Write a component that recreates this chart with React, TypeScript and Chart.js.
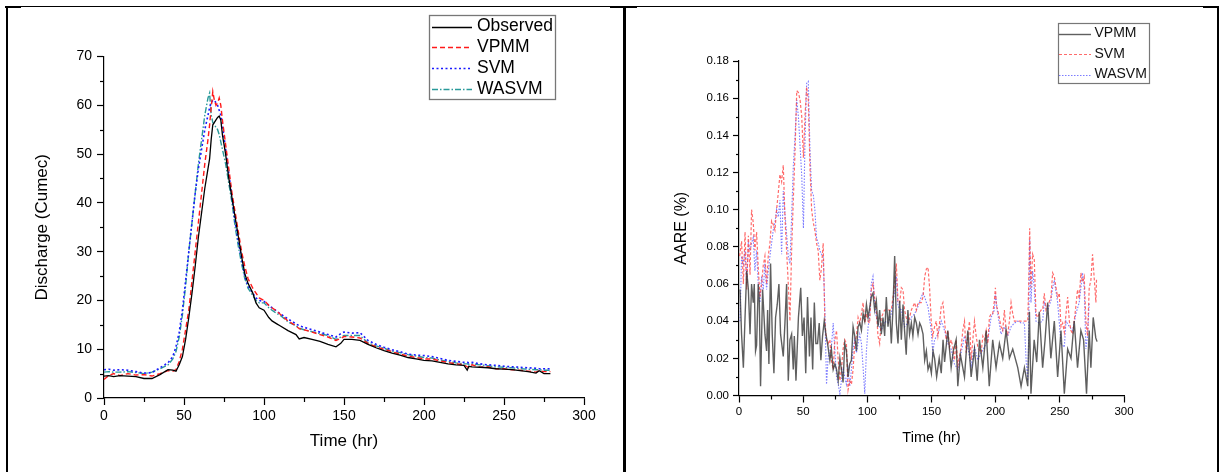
import React, { useEffect, useRef } from "react";
import { Chart, registerables } from "chart.js";

Chart.register(...registerables);

const FONT = '"Liberation Sans", Arial, Helvetica, sans-serif';

// ---------- Left panel: Discharge (Cumec) vs Time (hr) ----------
const dischargeTime = [
  0, 3, 6, 10, 15, 20, 25, 30, 35, 40,
  43, 45, 47, 49, 51, 53, 55, 57, 59, 61,
  63, 65, 66, 67, 68, 69, 70, 71, 72, 73,
  74, 76, 78, 80, 82, 84, 86, 88, 90, 93,
  95, 97, 100, 103, 105, 108, 110, 115, 120, 122,
  125, 130, 135, 140, 145, 148, 150, 155, 160, 165,
  170, 175, 180, 185, 190, 195, 200, 205, 210, 215,
  220, 225, 227, 228, 230, 235, 240, 245, 250, 255,
  260, 265, 270, 272, 275, 279,
];
const observedQ = [
  4.5, 4.6, 4.4, 4.6, 4.5, 4.4, 4.0, 4.0, 4.8, 5.8,
  5.7, 5.5, 6.8, 8.5, 12, 16.5, 21.5, 27, 33, 38,
  43, 47, 49, 53, 56, 56.5, 57, 57.5, 57.8, 57,
  54, 50, 45, 41, 37, 33, 29, 25.5, 23.5, 21.5,
  19.5, 18.5, 18, 16.5, 15.8, 15.2, 14.8, 13.8, 13, 12.1,
  12.4, 12, 11.6, 11, 10.5, 11.2, 12, 12, 11.8, 11,
  10.3, 9.7, 9.2, 8.8, 8.3, 8, 7.7, 7.6, 7.3, 7,
  6.8, 6.7, 5.7, 6.5, 6.4, 6.3, 6.2, 6, 5.9, 5.8,
  5.6, 5.4, 5.1, 5.6, 5.0, 5.0,
];
const vpmmQ = [
  3.8, 4.6, 5.0, 4.6, 5.0, 4.7, 4.8, 4.5, 5.0, 5.6,
  5.5, 5.8, 7.5, 10, 14, 18, 24, 30, 36, 42,
  48, 53, 56, 59.5, 62.8, 61, 60, 60.5, 61.5, 60,
  57, 52, 47, 42, 38, 34, 30, 27, 24.5, 22.5,
  21.5, 20.5, 20, 19, 18.5, 17.8, 17.2, 15.8, 14.8, 14.2,
  14, 13.5, 13, 12.5, 11.8, 12.2, 12.6, 12.5, 12.3, 11.2,
  10.5, 10, 9.5, 9, 8.6, 8.3, 8.0, 8.0, 7.6, 7.3,
  7.0, 6.8, 6.4, 6.2, 6.8, 6.3, 6.4, 6.0, 6.0, 5.8,
  5.7, 5.5, 5.3, 5.6, 5.4, 5.4,
];
const svmQ = [
  5.8, 5.9, 5.7, 5.8, 5.7, 5.4, 5.1, 5.2, 6.2, 7.2,
  8.5, 10.5, 13.5, 18, 24, 30, 36, 42, 47, 51,
  55, 58, 59.5, 60.5, 61, 61, 60.5, 60, 59, 58,
  56, 51, 46, 41, 36, 32, 28.5, 25, 23, 21.5,
  20.5, 20, 19.8, 19, 18.5, 17.8, 17.3, 16.2, 15.2, 14.8,
  14.5, 14, 13.5, 13, 12.5, 13.2, 13.5, 13.3, 13.4, 11.8,
  11, 10.4, 9.9, 9.5, 9, 8.8, 8.7, 8.5, 8.1, 7.7,
  7.5, 7.3, 7.3, 7.2, 7.3, 7, 6.8, 6.7, 6.5, 6.4,
  6.3, 6.2, 6.1, 6.0, 6.0, 6.0,
];
const wasvmQ = [
  5.3, 5.4, 5.3, 5.3, 5.4, 5.2, 5.0, 5.3, 6.0, 6.8,
  8, 9.5, 12.5, 17, 23, 30, 36, 42, 48, 53,
  58, 61.5, 62.5, 58, 56.5, 56, 55.5, 55, 54, 52.5,
  51, 48, 44, 40, 35, 31, 27.5, 24.5, 22.5, 21,
  20, 19.5, 19.5, 18.5, 18, 17.3, 17, 15.6, 14.8, 14.3,
  14, 13.6, 13.2, 12.8, 12, 12.5, 12.8, 12.8, 12.8, 11.3,
  10.7, 10.2, 9.6, 9.3, 8.9, 8.6, 8.3, 8.2, 7.8, 7.5,
  7.2, 7, 7, 6.9, 7, 6.8, 6.6, 6.4, 6.3, 6.2,
  6.0, 5.9, 5.8, 5.8, 5.7, 5.7,
];

// ---------- Right panel: AARE (%) vs Time (hr), [time, value] ----------
const vpmmAare: [number, number][] = [
  [0.8, .057], [2, .033], [3.4, .015], [4.7, .042], [6, .067], [7.3, .057], [8.6, .033], [9.8, .060],
  [11.1, .050], [11.9, .060], [12.9, .024], [13.7, .027], [15, .060], [15.8, .051], [16.8, .005], [18.4, .057],
  [20.2, .033], [21.5, .024], [22.3, .046], [23.3, .017], [24.6, .071], [25.9, .033], [27.2, .012], [28.5, .042],
  [29.8, .049], [31.1, .060], [32.4, .033], [34.5, .021], [35.8, .039], [37.1, .060], [38.4, .008], [39.7, .030],
  [41, .033], [42.3, .014], [43.1, .032], [44.4, .008], [46.3, .042], [48.1, .058], [49.4, .032], [50.7, .042],
  [52, .012], [53.4, .053], [54.9, .021], [56.1, .042], [57.4, .014], [58.7, .050], [59.9, .028], [61.2, .028],
  [62.5, .039], [63.8, .019], [65.1, .032], [66.4, .040], [67.7, .033], [69, .028], [70.8, .019], [72, .025],
  [73.4, .014], [74.7, .017], [76, .014], [77.3, .008], [78.6, .020], [79.8, .014], [81.1, .007], [82.4, .028],
  [83.7, .024], [85, .010], [86.3, .017], [87.6, .019], [88.9, .037], [90.2, .032], [91.5, .024], [92.8, .037],
  [94.1, .039], [95.4, .035], [96.7, .044], [98, .040], [99.3, .049], [100.6, .042], [101.8, .047], [103.1, .053],
  [104.4, .055], [105.7, .046], [107, .051], [108.3, .037], [109.6, .046], [110.9, .033], [112.2, .042], [113.5, .032],
  [114.8, .053], [116.1, .037], [117.4, .046], [118.7, .028], [120, .047], [121.3, .075], [122.6, .039], [123.9, .028],
  [125.2, .051], [126.5, .030], [127.8, .049], [129, .035], [130.3, .022], [131.6, .046], [132.9, .033], [134.3, .039],
  [135.5, .032], [136.9, .042], [138.2, .039], [139.5, .033], [140.8, .039], [142, .037], [143.4, .033], [144.7, .019],
  [146, .024], [147.3, .014], [148.6, .017], [149.9, .012], [151.2, .024], [152.4, .020], [154, .010], [156, .020],
  [157.6, .012], [159, .030], [160.2, .018], [162.7, .035], [165.3, .015], [167, .024], [169.2, .030], [170.5, .005],
  [172.5, .022], [175.7, .010], [178.3, .035], [180.9, .010], [183.5, .025], [185.6, .008], [187.4, .030], [190, .015],
  [192.6, .035], [195, .005], [197.7, .030], [200.3, .015], [202.9, .028], [205.5, .020], [208.1, .035], [210.7, .020],
  [213.3, .025], [217.2, .015], [219.8, .005], [222.4, .015], [225, .005], [226.3, .045], [227.5, .001], [230, .030],
  [232, .018], [234, .045], [236.6, .015], [238.5, .030], [240.5, .050], [243, .020], [245.7, .040], [248.3, .010],
  [250.9, .035], [253.5, .001], [256.1, .025], [258.7, .020], [261.2, .040], [263.8, .015], [266.4, .035], [268.5, .030],
  [270.8, .001], [272.9, .035], [274.2, .015], [276, .042], [278, .031], [279, .029],
];
const svmAare: [number, number][] = [
  [0.5, .075], [2, .083], [3.4, .060], [4.7, .088], [6, .057], [7.3, .086], [8.6, .065], [9.8, .100],
  [11.1, .093], [12.4, .078], [13.7, .088], [15, .069], [16.3, .053], [17.6, .060], [18.9, .070], [20.2, .075],
  [21.5, .060], [22.8, .075], [24.1, .082], [25.4, .094], [26.7, .092], [28, .089], [29.3, .100], [30.6, .109],
  [31.9, .119], [33.2, .115], [34.5, .124], [35.8, .096], [37.1, .078], [38.4, .060], [39.7, .040], [41, .078],
  [42.3, .105], [43.7, .132], [45, .164], [46.3, .163], [47.6, .159], [48.9, .150], [50.2, .128], [51.4, .150],
  [52.7, .166], [54, .159], [55.3, .123], [56.6, .100], [57.9, .093], [59.1, .089], [60.4, .082], [61.7, .078],
  [63, .062], [64.3, .069], [65.6, .082], [66.9, .040], [68.2, .030], [69.5, .028], [70.8, .030], [72, .019],
  [73.4, .014], [74.7, .030], [76, .035], [77.3, .019], [78.6, .008], [79.8, .014], [81.1, .025], [82.4, .030],
  [83.7, .028], [85, .003], [86.3, .008], [87.6, .006], [88.9, .014], [90.2, .028], [91.5, .032], [92.8, .042],
  [94.1, .039], [95.4, .044], [96.7, .050], [98, .039], [99.3, .044], [100.6, .040], [101.8, .039], [103.1, .057],
  [104.4, .060], [105.7, .053], [107, .046], [108.3, .032], [109.6, .028], [110.9, .042], [112.2, .044], [113.5, .046],
  [116.1, .046], [118.7, .046], [121.3, .060], [122.6, .071], [123.9, .050], [125.2, .050], [126.5, .058], [127.8, .057],
  [129, .046], [130.3, .042], [131.6, .039], [132.9, .042], [134.3, .046], [136.9, .050], [138.2, .046], [139.5, .050],
  [142, .050], [143.4, .053], [144.7, .064], [146, .068], [147.3, .069], [148.5, .058], [149.8, .040], [151, .032],
  [152.4, .037], [153.7, .040], [155, .032], [156.3, .039], [157.6, .048], [158.9, .050], [160.2, .040], [161.4, .030],
  [162.7, .035], [164, .026], [165.3, .030], [166.6, .026], [167.9, .019], [169.2, .030], [170.5, .016], [173.1, .026],
  [174.4, .035], [175.7, .040], [177, .023], [178.3, .032], [179.6, .040], [180.9, .019], [182.2, .030], [183.5, .040],
  [184.8, .032], [186.1, .026], [188.7, .023], [190, .032], [191.3, .030], [192.6, .035], [193.9, .028], [195.1, .042],
  [196.4, .044], [197.7, .044], [199, .051], [199.8, .058], [200.6, .048], [201.6, .046], [204.2, .037], [205.5, .035],
  [206.8, .046], [208.1, .035], [209.4, .033], [210.7, .040], [212, .050], [213.3, .044], [214.6, .040], [217.2, .040],
  [219.8, .040], [222.4, .040], [225, .040], [225.7, .058], [226.5, .090], [227.5, .058], [228.8, .076], [230.1, .073],
  [231.4, .044], [232.7, .042], [234, .044], [235.3, .046], [236.6, .046], [237.9, .055], [239.2, .046], [240.5, .048],
  [243.1, .053], [244.4, .066], [245.7, .064], [247, .058], [248.3, .053], [249.6, .055], [250.9, .037], [252.2, .039],
  [253.5, .034], [254.8, .044], [256.1, .053], [257.4, .040], [258.7, .035], [260, .033], [261.2, .040], [262.5, .048],
  [263.8, .057], [265.1, .052], [266.4, .066], [267.7, .061], [269, .064], [270.3, .040], [271.6, .032], [272.9, .058],
  [274.2, .062], [275.5, .076], [276.8, .063], [278.1, .050], [278.6, .063],
];
const wasvmAare: [number, number][] = [
  [0.8, .040], [2, .075], [3.4, .071], [4.7, .078], [6, .060], [7.3, .082], [8.6, .078], [9.8, .082],
  [11.1, .085], [12.4, .067], [13.7, .078], [15, .060], [16.3, .050], [17.6, .064], [18.9, .057], [20.2, .071],
  [21.5, .057], [22.8, .067], [24.1, .075], [25.4, .082], [26.7, .089], [28, .093], [29.3, .100], [30.6, .096],
  [31.9, .105], [33.2, .076], [34.5, .110], [35.8, .098], [37.1, .087], [38.4, .075], [39.7, .071], [41, .096],
  [42.3, .123], [43.7, .140], [45, .159], [46.3, .150], [47.6, .134], [48.9, .118], [50.2, .090], [51.4, .136],
  [52.7, .168], [54, .169], [55.3, .132], [56.6, .110], [57.9, .108], [59.1, .100], [60.4, .085], [61.7, .082],
  [63, .078], [64.3, .076], [65.6, .075], [66.9, .046], [68.2, .006], [69.5, .021], [70.8, .024], [72, .026],
  [73.4, .039], [74.7, .024], [76, .010], [77.3, .006], [78.6, .001], [79.8, .008], [81.1, .014], [82.4, .010],
  [83.7, .006], [85, .014], [86.3, .005], [87.6, .014], [88.9, .025], [90.2, .030], [91.5, .023], [92.8, .028],
  [94.1, .033], [95.4, .028], [96.7, .015], [98, .001], [99.3, .024], [100.6, .037], [101.8, .042], [103.1, .060],
  [104.4, .064], [105.7, .050], [107, .042], [108.3, .039], [110.9, .035], [113.5, .040], [116.1, .039], [118.7, .044],
  [121.3, .056], [122.6, .064], [123.9, .048], [126.5, .046], [129, .037], [131.6, .039], [134.3, .042], [136.9, .044],
  [139.5, .048], [142, .053], [143.4, .055], [144.7, .053], [146, .050], [147.2, .048], [149.8, .035], [151, .023],
  [152.4, .030], [155, .033], [157.6, .040], [160.2, .035], [162.7, .028], [165.3, .025], [167.9, .017], [170.5, .014],
  [173.1, .023], [175.7, .032], [178.3, .026], [180.9, .016], [183.5, .026], [186.1, .019], [188.7, .023], [191.3, .026],
  [193.9, .030], [196.4, .042], [199, .046], [199.8, .055], [201.6, .044], [204.2, .033], [206.8, .037], [209.4, .032],
  [212, .037], [214.6, .039], [217.2, .040], [219.8, .039], [222.4, .039], [223.7, .019], [225, .008], [225.7, .032],
  [226.5, .084], [227.5, .050], [228.8, .067], [230.1, .058], [231.4, .040], [234, .039], [236.6, .040], [237.9, .050],
  [240.5, .046], [243.1, .051], [244.4, .058], [245.7, .062], [248.3, .050], [250.9, .028], [253.5, .026], [254.8, .040],
  [257.4, .037], [260, .035], [262.5, .044], [265.1, .050], [266.4, .058], [267.7, .066], [269, .058], [270.3, .025],
  [271.6, .032], [272.9, .050],
];

// ---------- Plugins (draw through chart scales / datasets) ----------
const minorTicksPlugin = {
  id: "minorTicks",
  afterDraw(chart: any, _args: any, opts: any) {
    const ctx = chart.ctx;
    const area = chart.chartArea;
    ctx.save();
    ctx.strokeStyle = "#000";
    ctx.lineWidth = opts.width || 1;
    ["x", "y"].forEach((id) => {
      const scale = chart.scales[id];
      const ticks = scale.ticks;
      for (let i = 0; i < ticks.length - 1; i++) {
        const mid = (ticks[i].value + ticks[i + 1].value) / 2;
        const p = Math.round(scale.getPixelForValue(mid)) + 0.5;
        ctx.beginPath();
        if (id === "x") {
          ctx.moveTo(p, area.bottom);
          ctx.lineTo(p, area.bottom + opts.xLength);
        } else {
          ctx.moveTo(area.left - opts.yLength, p);
          ctx.lineTo(area.left, p);
        }
        ctx.stroke();
      }
    });
    ctx.restore();
  },
};

const boxLegendPlugin = {
  id: "boxLegend",
  afterDraw(chart: any, _args: any, o: any) {
    const ctx = chart.ctx;
    ctx.save();
    ctx.fillStyle = "#fff";
    ctx.fillRect(o.x, o.y, o.w, o.h);
    ctx.strokeStyle = o.borderColor;
    ctx.lineWidth = o.borderWidth;
    ctx.strokeRect(o.x + 0.5, o.y + 0.5, o.w, o.h);
    ctx.font = `${o.fontSize}px ${FONT}`;
    ctx.textBaseline = "middle";
    ctx.textAlign = "left";
    chart.data.datasets.forEach((ds: any, i: number) => {
      const y = o.firstRowY + i * o.rowGap;
      ctx.save();
      ctx.strokeStyle = ds.borderColor;
      ctx.lineWidth = ds.borderWidth;
      ctx.setLineDash(ds.borderDash || []);
      ctx.beginPath();
      ctx.moveTo(o.lineX0, Math.round(y) + 0.5);
      ctx.lineTo(o.lineX1, Math.round(y) + 0.5);
      ctx.stroke();
      ctx.restore();
      ctx.fillStyle = o.textColor;
      ctx.fillText(ds.label, o.textX, y);
    });
    ctx.restore();
  },
};

function axis(opts: any) {
  return {
    type: "linear",
    min: opts.min,
    max: opts.max,
    ticks: {
      stepSize: opts.step,
      autoSkip: false,
      maxRotation: 0,
      font: { size: opts.tickSize, family: FONT },
      color: "#000",
      padding: opts.tickPad,
      callback: opts.format,
    },
    grid: {
      display: true,
      drawOnChartArea: false,
      drawTicks: true,
      tickLength: opts.tickLen,
      tickColor: "#000",
      tickWidth: 1.2,
    },
    border: { display: true, color: "#000", width: 1.2 },
    title: {
      display: true,
      text: opts.title,
      font: { size: opts.titleSize, family: FONT },
      color: "#000",
      padding: opts.titlePad,
    },
    afterFit: opts.afterFit,
  };
}

const leftConfig: any = {
  type: "line",
  data: {
    datasets: [
      { label: "Observed", data: dischargeTime.map((t, i) => ({ x: t, y: observedQ[i] })), borderColor: "#000000", borderWidth: 1.3, borderDash: [] },
      { label: "VPMM", data: dischargeTime.map((t, i) => ({ x: t, y: vpmmQ[i] })), borderColor: "#ff1a1a", borderWidth: 1.4, borderDash: [5, 3] },
      { label: "SVM", data: dischargeTime.map((t, i) => ({ x: t, y: svmQ[i] })), borderColor: "#1a1aff", borderWidth: 1.6, borderDash: [2, 2.5] },
      { label: "WASVM", data: dischargeTime.map((t, i) => ({ x: t, y: wasvmQ[i] })), borderColor: "#2a9a9a", borderWidth: 1.4, borderDash: [6, 2, 1.5, 2] },
    ],
  },
  options: {
    animation: false,
    responsive: false,
    devicePixelRatio: 1,
    events: [],
    layout: { padding: { left: 0, top: 48.5, right: 38, bottom: 0 } },
    elements: { point: { radius: 0 }, line: { tension: 0, fill: false } },
    plugins: {
      legend: { display: false },
      tooltip: { enabled: false },
      minorTicks: { xLength: 4, yLength: 4, width: 1.2 },
      boxLegend: {
        x: 421, y: 7, w: 126, h: 84, borderColor: "#777", borderWidth: 1.3,
        fontSize: 17.5, textColor: "#000", firstRowY: 18.5, rowGap: 20.9,
        lineX0: 424, lineX1: 464, textX: 469,
      },
    },
    scales: {
      x: axis({ min: 0, max: 300, step: 50, tickSize: 14, tickPad: 3, tickLen: 7, title: "Time (hr)", titleSize: 17, titlePad: { top: 0, bottom: 20 }, afterFit: (s: any) => { s.height = 74; } }),
      y: axis({ min: 0, max: 70, step: 10, tickSize: 14, tickPad: 5, tickLen: 7, title: "Discharge (Cumec)", titleSize: 17, titlePad: { top: 24, bottom: 0 }, afterFit: (s: any) => { s.width = 96; } }),
    },
  },
};

const rightConfig: any = {
  type: "line",
  data: {
    datasets: [
      { label: "VPMM", data: vpmmAare.map(([t, v]) => ({ x: t, y: v })), borderColor: "rgba(55,55,55,0.8)", borderWidth: 1.4, borderDash: [] },
      { label: "SVM", data: svmAare.map(([t, v]) => ({ x: t, y: v })), borderColor: "rgba(255,70,70,0.8)", borderWidth: 1.2, borderDash: [3, 2] },
      { label: "WASVM", data: wasvmAare.map(([t, v]) => ({ x: t, y: v })), borderColor: "rgba(80,80,255,0.75)", borderWidth: 1.1, borderDash: [1.5, 1.5] },
    ],
  },
  options: {
    animation: false,
    responsive: false,
    devicePixelRatio: 1,
    events: [],
    layout: { padding: { left: 0, top: 53, right: 92, bottom: 0 } },
    elements: { point: { radius: 0 }, line: { tension: 0, fill: false } },
    plugins: {
      legend: { display: false },
      tooltip: { enabled: false },
      minorTicks: { xLength: 4, yLength: 3, width: 1.2 },
      boxLegend: {
        x: 432, y: 15, w: 91, h: 60, borderColor: "#777", borderWidth: 1.2,
        fontSize: 14, textColor: "#111", firstRowY: 25.5, rowGap: 20.5,
        lineX0: 433, lineX1: 465, textX: 468.5,
      },
    },
    scales: {
      x: axis({ min: 0, max: 300, step: 50, tickSize: 11.5, tickPad: 2, tickLen: 7, title: "Time (hr)", titleSize: 14.5, titlePad: { top: 0, bottom: 25 }, afterFit: (s: any) => { s.height = 76.5; } }),
      y: axis({ min: 0, max: 0.18, step: 0.02, tickSize: 11.5, tickPad: 4, tickLen: 6, title: "AARE (%)", titleSize: 16, titlePad: { top: 46, bottom: 0 }, format: (v: any) => Number(v).toFixed(2), afterFit: (s: any) => { s.width = 113; } }),
    },
  },
};

function ChartCanvas({ config, left, top, width, height }: any) {
  const ref = useRef<HTMLCanvasElement>(null);
  useEffect(() => {
    const chart = new Chart(ref.current as HTMLCanvasElement, { ...config, plugins: [minorTicksPlugin, boxLegendPlugin] });
    return () => chart.destroy();
  }, []);
  return (
    <canvas
      ref={ref}
      width={width}
      height={height}
      style={{ position: "absolute", left, top, width, height }}
    />
  );
}

const line = (left: number, top: number, width: number, height: number) => (
  <div style={{ position: "absolute", left, top, width, height, background: "#000" }} />
);

export default function App() {
  return (
    <div style={{ position: "absolute", left: 0, top: 0, width: 1224, height: 472, background: "#fff", overflow: "hidden" }}>
      <ChartCanvas config={leftConfig} left={8} top={8} width={614} height={464} />
      <ChartCanvas config={rightConfig} left={626} top={8} width={590} height={464} />
      {line(5, 6, 1214, 1)}
      {line(5, 6, 16, 2)}
      {line(610, 6, 27, 2)}
      {line(1203, 6, 16, 2)}
      {line(6, 6, 2, 466)}
      {line(623, 6, 2.5, 466)}
      {line(1216.5, 6, 2.5, 466)}
    </div>
  );
}
